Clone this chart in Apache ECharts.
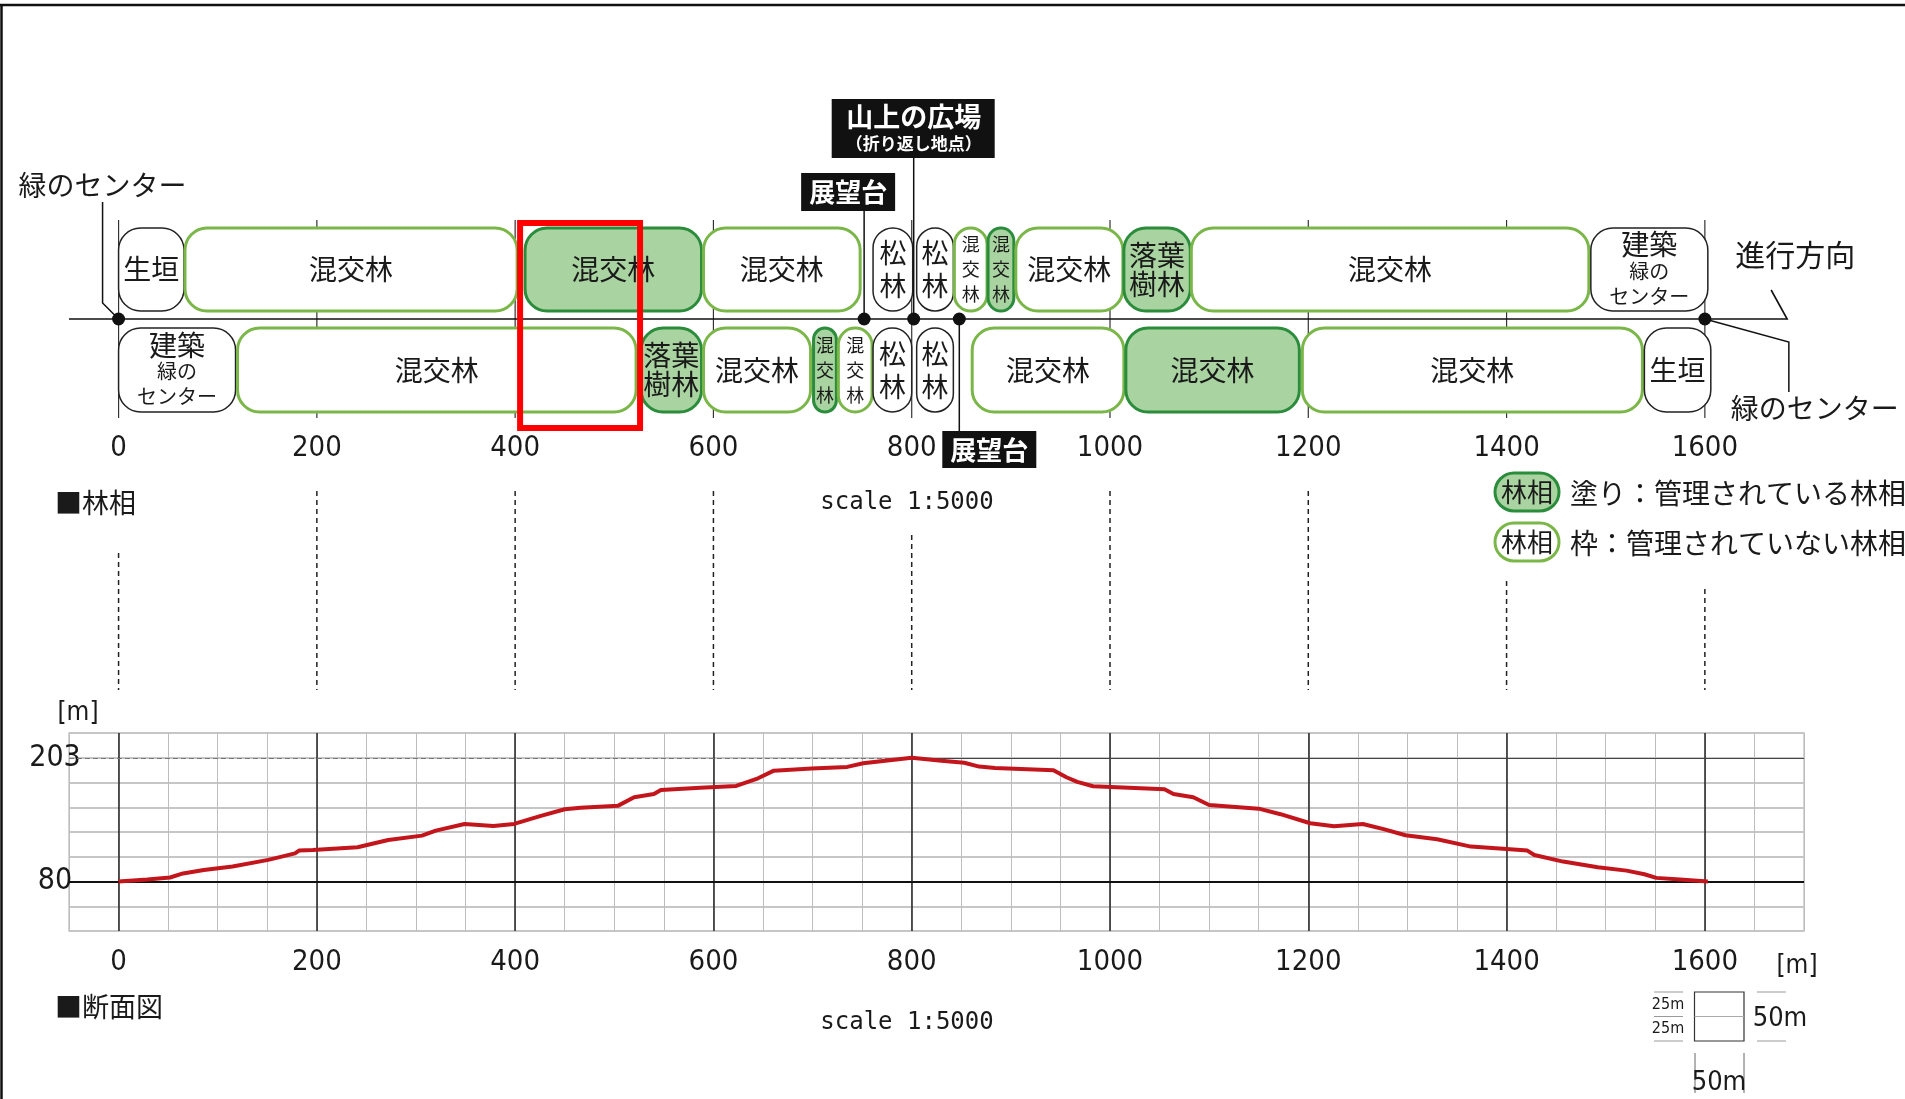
<!DOCTYPE html>
<html>
<head>
<meta charset="utf-8">
<script src="https://cdn.jsdelivr.net/npm/echarts@6/dist/echarts.min.js"></script>
<style>
html, body { margin: 0; padding: 0; background: #fff; }
#chart { width: 1905px; height: 1099px; }
</style>
</head>
<body>
<div id="chart"></div>
<script>
// 林相 上段（進行方向側）
const upperStart = [0, 67, 410, 590, 761, 805, 843, 877, 905, 1014, 1082, 1485];
const upperEnd = [66, 402, 588, 748, 801, 842, 876, 903, 1013, 1081, 1483, 1603];
const upperLabel = ['生垣', '混交林', '混交林', '混交林', '松\n林', '松\n林', '混\n交\n林', '混\n交\n林', '混交林', '落葉\n樹林', '混交林', '建築\n緑の\nセンター'];
const upperKind = ['plain', 'open', 'managed', 'open', 'plain', 'plain', 'open', 'managed', 'open', 'managed', 'open', 'plain'];

// 林相 下段
const lowerStart = [0, 120, 527, 590, 701, 726, 761, 805, 861, 1016, 1194, 1539];
const lowerEnd = [118, 522, 588, 698, 724, 760, 800, 842, 1014, 1191, 1537, 1606];
const lowerLabel = ['建築\n緑の\nセンター', '混交林', '落葉\n樹林', '混交林', '混\n交\n林', '混\n交\n林', '松\n林', '松\n林', '混交林', '混交林', '混交林', '生垣'];
const lowerKind = ['plain', 'open', 'managed', 'open', 'managed', 'open', 'plain', 'plain', 'open', 'managed', 'open', 'plain'];

// 地点
const spotDist = [0, 752, 802, 848, 1600];
const spotName = ['緑のセンター', '展望台', '山上の広場', '展望台', '緑のセンター'];

// 断面図（距離 m / 標高 m）
const profileDist = [0, 29, 52, 65, 86, 115, 151, 178, 182, 196, 241, 272, 306, 320, 349, 378, 399, 426, 450, 466, 504, 520, 540, 547,
  587, 623, 645, 661, 699, 735, 751, 800, 830, 853, 868, 884, 943, 956, 967, 983, 1055, 1064, 1084, 1100, 1150, 1172, 1202, 1226,
  1255, 1276, 1298, 1330, 1364, 1400, 1421, 1428, 1457, 1492, 1521, 1539, 1551, 1575, 1603];
const profileElev = [80, 82, 84, 88, 91.5, 95, 101.5, 108, 110.7, 111.4, 114, 121.3, 125.6, 130.6, 137.2, 135.2, 137.2, 145.2, 151.8, 153.4, 155.4, 163.7, 167, 171,
  173.3, 175, 182.6, 190.2, 192.2, 193.9, 197.5, 203, 200, 198, 194.2, 192.9, 190.6, 183.6, 179, 174.7, 171.7, 167, 163.7, 156.1, 152.4, 146.9, 137.9, 134.9,
  137.2, 132, 126, 122, 114.7, 112.4, 110.7, 106.4, 99.8, 94.2, 90.8, 87.2, 83.6, 82, 80];

// 目盛
const distLabels = [0, 200, 400, 600, 800, 1000, 1200, 1400, 1600];
const elevLabels = [80, 203];
const highlight = [405, 526];

const JP = '"Noto Sans CJK JP", sans-serif';
const NUM = '"Liberation Sans Narrow", "DejaVu Sans Condensed", "Noto Sans CJK JP", sans-serif';
const MONO = '"DejaVu Sans Mono", monospace';
const INK = '#1a1a1a';

// 点線ガイドの上端（px）
const guideTop = [553, 491, 491, 491, 535, 491, 491, 581, 589];
const guideBottom = 690;

const boxStyle = {
    managed: { fill: '#a9d4a1', stroke: '#2b8c3c', lw: 3 },
    open: { fill: '#fff', stroke: '#7ab648', lw: 3 },
    plain: { fill: '#fff', stroke: '#222', lw: 1.5 }
};

function labelStyle(name) {
    const s = { text: name, align: 'center', verticalAlign: 'middle', fill: INK, fontFamily: JP, fontSize: 28 };
    if (name === '建築\n緑の\nセンター') {
        s.text = '{a|建築}\n{b|緑の}\n{b|センター}';
        s.rich = {
            a: { fontSize: 28, lineHeight: 28, fontFamily: JP, fill: INK },
            b: { fontSize: 20, lineHeight: 25, fontFamily: JP, fill: INK }
        };
    } else if (name === '混\n交\n林') {
        s.fontSize = 18; s.lineHeight = 25;
    } else if (name === '松\n林') {
        s.fontSize = 27; s.lineHeight = 33;
    } else if (name === '落葉\n樹林') {
        s.lineHeight = 29;
    }
    return s;
}

function boxSeries(starts, ends, labels, kinds, upper) {
    return {
        type: 'custom', xAxisIndex: 0, yAxisIndex: 0, z: 3,
        data: starts.map((s, i) => [s, ends[i]]),
        encode: { x: [0, 1] },
        renderItem: function (params, api) {
            const i = params.dataIndex;
            const a = api.coord([api.value(0), 0]);
            const b = api.coord([api.value(1), 0]);
            const cy = a[1];
            const h = upper ? 83 : 84;
            const y = upper ? cy - 91 : cy + 9;
            const w = b[0] - a[0];
            const st = boxStyle[kinds[i]];
            return {
                type: 'group', children: [
                    { type: 'rect', shape: { x: a[0], y: y, width: w, height: h, r: Math.min(22, w / 2) },
                      style: { fill: st.fill, stroke: st.stroke, lineWidth: st.lw } },
                    { type: 'text', x: a[0] + w / 2, y: y + h / 2, style: labelStyle(labels[i]) }
                ]
            };
        }
    };
}

function jpText(txt, x, y, size, opt) {
    return Object.assign({ type: 'text', x: x, y: y,
        style: { text: txt, fontSize: size, fontFamily: JP, fill: INK, align: 'left', verticalAlign: 'middle' } }, opt || {});
}

const chart = echarts.init(document.getElementById('chart'));

const option = {
    animation: false,
    backgroundColor: '#fff',
    grid: [
        { left: 69, top: 90, width: 1735, height: 340 },
        { left: 69, top: 733, width: 1735, height: 198, show: true, borderColor: '#c6c6c6', borderWidth: 1.5 }
    ],
    xAxis: [
        {
            gridIndex: 0, type: 'value', min: -50, max: 1700, interval: 50,
            axisLine: { show: false }, axisTick: { show: false }, splitLine: { show: false },
            axisLabel: {
                margin: 18, verticalAlign: 'middle', fontSize: 29, fontFamily: NUM, color: INK,
                formatter: v => distLabels.includes(v) ? String(v) : ''
            }
        },
        {
            gridIndex: 1, type: 'value', min: -50, max: 1700, interval: 50,
            axisLine: { show: false }, axisTick: { show: false },
            splitLine: { show: true, lineStyle: { color: '#bdbdbd', width: 1 } },
            axisLabel: {
                margin: 31, verticalAlign: 'middle', fontSize: 29, fontFamily: NUM, color: INK,
                formatter: v => distLabels.includes(v) ? String(v) : ''
            }
        }
    ],
    yAxis: [
        { gridIndex: 0, type: 'value', min: -111, max: 229, show: false },
        {
            gridIndex: 1, type: 'value', min: 30.8, max: 227.6, interval: 24.6,
            axisLine: { show: false }, axisTick: { show: false },
            splitLine: { show: true, lineStyle: { color: '#c6c6c6', width: 2 } },
            axisLabel: {
                margin: 14, align: 'center', fontSize: 30, fontFamily: NUM, color: INK,
                formatter: v => { const e = elevLabels.find(t => Math.abs(t - v) < 0.5); return e === undefined ? '' : String(e); }
            }
        }
    ],
    series: [
        // 距離目盛線（林相）
        {
            type: 'custom', xAxisIndex: 0, yAxisIndex: 0, z: 1,
            data: distLabels.map(d => [d]),
            encode: { x: 0 },
            renderItem: function (params, api) {
                const p = api.coord([api.value(0), 0]);
                return { type: 'line', shape: { x1: p[0], y1: p[1] - 99, x2: p[0], y2: p[1] + 99 },
                    style: { stroke: '#333', lineWidth: 1.2 } };
            }
        },
        // 点線ガイド
        {
            type: 'custom', xAxisIndex: 0, yAxisIndex: 0, z: 1,
            data: distLabels.map(d => [d]),
            encode: { x: 0 },
            renderItem: function (params, api) {
                const p = api.coord([api.value(0), 0]);
                return { type: 'line', shape: { x1: p[0], y1: guideTop[params.dataIndex], x2: p[0], y2: guideBottom },
                    style: { stroke: '#222', lineWidth: 1.5, lineDash: [5, 4] } };
            }
        },
        // 中心線と進行方向
        {
            type: 'custom', xAxisIndex: 0, yAxisIndex: 0, z: 2,
            data: [[-50, 1683]],
            encode: { x: [0, 1] },
            renderItem: function (params, api) {
                const a = api.coord([api.value(0), 0]);
                const b = api.coord([api.value(1), 0]);
                return { type: 'group', children: [
                    { type: 'polyline', shape: { points: [[a[0], a[1]], [b[0], b[1]], [b[0] - 16, b[1] - 29]] },
                      style: { stroke: '#111', lineWidth: 1.6, fill: null } },
                    jpText('進行方向', b[0] - 52, b[1] - 64, 30)
                ] };
            }
        },
        boxSeries(upperStart, upperEnd, upperLabel, upperKind, true),
        boxSeries(lowerStart, lowerEnd, lowerLabel, lowerKind, false),
        // 地点
        {
            type: 'custom', xAxisIndex: 0, yAxisIndex: 0, z: 5,
            data: spotDist.map(d => [d]),
            encode: { x: 0 },
            renderItem: function (params, api) {
                const i = params.dataIndex;
                const p = api.coord([api.value(0), 0]);
                const x = p[0], cy = p[1];
                const line = pts => ({ type: 'polyline', shape: { points: pts }, style: { stroke: '#111', lineWidth: 1.5, fill: null } });
                const tag = (x0, y0, w, h) => ({ type: 'rect', shape: { x: x0, y: y0, width: w, height: h }, style: { fill: '#111' } });
                const white = (txt, tx, ty, size) => ({ type: 'text', x: tx, y: ty,
                    style: { text: txt, fontSize: size, fontFamily: JP, fontWeight: 'bold', fill: '#fff', align: 'center', verticalAlign: 'middle' } });
                const kids = [];
                if (i === 0) {
                    kids.push(line([[x - 16, cy - 117], [x - 16, cy - 16], [x, cy]]));
                    kids.push(jpText(spotName[i], x - 100, cy - 134, 28));
                } else if (i === 1) {
                    kids.push(line([[x, cy], [x, cy - 108]]));
                    kids.push(tag(x - 63, cy - 146, 94, 38));
                    kids.push(white(spotName[i], x - 16, cy - 127, 26));
                } else if (i === 2) {
                    kids.push(line([[x, cy], [x, cy - 161]]));
                    kids.push(tag(x - 82, cy - 220, 163, 59));
                    kids.push(white(spotName[i], x, cy - 202, 27));
                    kids.push(white('（折り返し地点）', x, cy - 175, 17));
                } else if (i === 3) {
                    kids.push(line([[x, cy], [x, cy + 112]]));
                    kids.push(tag(x - 17, cy + 112, 94, 37));
                    kids.push(white(spotName[i], x + 30, cy + 131, 26));
                } else {
                    kids.push(line([[x, cy], [x + 84, cy + 23], [x + 84, cy + 73]]));
                    kids.push(jpText(spotName[i], x + 26, cy + 89, 28));
                }
                kids.push({ type: 'circle', shape: { cx: x, cy: cy, r: 6.5 }, style: { fill: '#111' } });
                return { type: 'group', children: kids };
            }
        },
        // 赤枠
        {
            type: 'custom', xAxisIndex: 0, yAxisIndex: 0, z: 10,
            data: [highlight],
            encode: { x: [0, 1] },
            renderItem: function (params, api) {
                const a = api.coord([api.value(0), 0]);
                const b = api.coord([api.value(1), 0]);
                return { type: 'rect', shape: { x: a[0], y: a[1] - 96, width: b[0] - a[0], height: 205 },
                    style: { fill: null, stroke: '#ff0000', lineWidth: 6 } };
            }
        },
        // 断面図の基準線
        {
            type: 'line', xAxisIndex: 1, yAxisIndex: 1, z: 2, data: [], silent: true,
            markLine: {
                silent: true, symbol: ['none', 'none'], label: { show: false }, animation: false,
                data: distLabels.map(d => ({ xAxis: d, lineStyle: { color: '#222', width: 1.5, type: 'solid' } }))
                    .concat([
                        { yAxis: elevLabels[0], lineStyle: { color: '#111', width: 2, type: 'solid' } },
                        [{ coord: [-50, elevLabels[1]], lineStyle: { color: '#777', width: 1, type: [5, 3] } }, { coord: [800, elevLabels[1]] }],
                        [{ coord: [800, elevLabels[1]], lineStyle: { color: '#444', width: 1.2, type: 'solid' } }, { coord: [1700, elevLabels[1]] }]
                    ])
            }
        },
        // 断面
        {
            type: 'line', xAxisIndex: 1, yAxisIndex: 1, z: 6,
            data: profileDist.map((d, i) => [d, profileElev[i]]),
            showSymbol: false, symbol: 'none',
            lineStyle: { color: '#c3161c', width: 4 }
        }
    ],
    graphic: [
        { type: 'line', shape: { x1: 0, y1: 5, x2: 1905, y2: 5 }, style: { stroke: '#111', lineWidth: 2.5 } },
        { type: 'line', shape: { x1: 1.5, y1: 5, x2: 1.5, y2: 1099 }, style: { stroke: '#111', lineWidth: 2.5 } },
        jpText('■林相', 55, 503, 27),
        jpText('■断面図', 55, 1007, 27),
        { type: 'text', x: 907, y: 503, style: { text: 'scale 1:5000', fontSize: 24, fontFamily: MONO, fill: INK, align: 'center', verticalAlign: 'middle' } },
        { type: 'text', x: 907, y: 1023, style: { text: 'scale 1:5000', fontSize: 24, fontFamily: MONO, fill: INK, align: 'center', verticalAlign: 'middle' } },
        { type: 'text', x: 78, y: 713, style: { text: '[m]', fontSize: 26, fontFamily: NUM, fill: INK, align: 'center', verticalAlign: 'middle' } },
        { type: 'text', x: 1797, y: 966, style: { text: '[m]', fontSize: 26, fontFamily: NUM, fill: INK, align: 'center', verticalAlign: 'middle' } },
        // 凡例
        { type: 'rect', shape: { x: 1495, y: 473, width: 64, height: 38, r: 19 }, style: { fill: '#a9d4a1', stroke: '#2b8c3c', lineWidth: 3 } },
        { type: 'text', x: 1527, y: 492, style: { text: '林相', fontSize: 26, fontFamily: JP, fill: INK, align: 'center', verticalAlign: 'middle' } },
        jpText('塗り：管理されている林相', 1570, 493, 28),
        { type: 'rect', shape: { x: 1495, y: 523, width: 64, height: 38, r: 19 }, style: { fill: '#fff', stroke: '#7ab648', lineWidth: 3 } },
        { type: 'text', x: 1527, y: 542, style: { text: '林相', fontSize: 26, fontFamily: JP, fill: INK, align: 'center', verticalAlign: 'middle' } },
        jpText('枠：管理されていない林相', 1570, 543, 28),
        // 縮尺凡例
        { type: 'rect', shape: { x: 1694.5, y: 992, width: 49.5, height: 49 }, style: { fill: null, stroke: '#333', lineWidth: 1.2 } },
        { type: 'line', shape: { x1: 1694.5, y1: 1016.5, x2: 1744, y2: 1016.5 }, style: { stroke: '#aaa', lineWidth: 1 } },
        { type: 'line', shape: { x1: 1654, y1: 992, x2: 1683, y2: 992 }, style: { stroke: '#999', lineWidth: 1 } },
        { type: 'line', shape: { x1: 1654, y1: 1016.5, x2: 1683, y2: 1016.5 }, style: { stroke: '#999', lineWidth: 1 } },
        { type: 'line', shape: { x1: 1654, y1: 1041, x2: 1683, y2: 1041 }, style: { stroke: '#999', lineWidth: 1 } },
        { type: 'text', x: 1668, y: 1005, style: { text: '25m', fontSize: 16, fontFamily: NUM, fill: INK, align: 'center', verticalAlign: 'middle' } },
        { type: 'text', x: 1668, y: 1029, style: { text: '25m', fontSize: 16, fontFamily: NUM, fill: INK, align: 'center', verticalAlign: 'middle' } },
        { type: 'line', shape: { x1: 1757, y1: 992, x2: 1786, y2: 992 }, style: { stroke: '#999', lineWidth: 1 } },
        { type: 'line', shape: { x1: 1757, y1: 1041, x2: 1786, y2: 1041 }, style: { stroke: '#999', lineWidth: 1 } },
        { type: 'text', x: 1780, y: 1019, style: { text: '50m', fontSize: 27, fontFamily: NUM, fill: INK, align: 'center', verticalAlign: 'middle' } },
        { type: 'line', shape: { x1: 1695, y1: 1053, x2: 1695, y2: 1093 }, style: { stroke: '#666', lineWidth: 1 } },
        { type: 'line', shape: { x1: 1744, y1: 1053, x2: 1744, y2: 1093 }, style: { stroke: '#666', lineWidth: 1 } },
        { type: 'text', x: 1719, y: 1083, style: { text: '50m', fontSize: 27, fontFamily: NUM, fill: INK, align: 'center', verticalAlign: 'middle' } }
    ]
};

chart.setOption(option);
</script>
</body>
</html>
